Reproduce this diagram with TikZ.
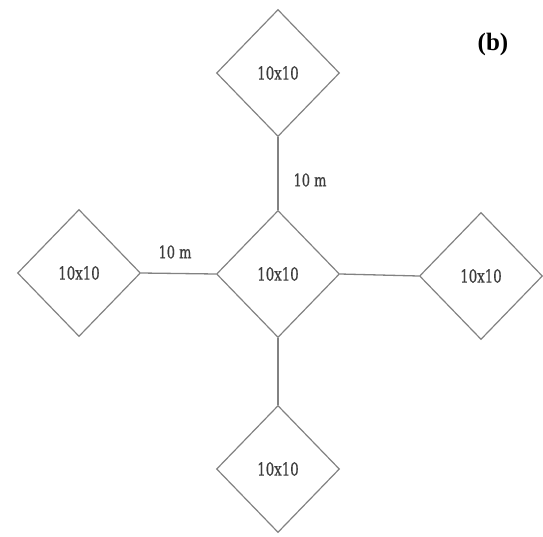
\documentclass[tikz,border=0pt]{standalone}
\usepackage{fontspec}
\setmainfont{Liberation Serif}
\newfontfamily\slabfont[FakeStretch=0.74,FakeBold=0.6]{DejaVu Serif}
\usetikzlibrary{shapes.geometric}
\definecolor{edgegray}{RGB}{130,130,130}
\definecolor{textgray}{RGB}{60,60,60}
\tikzset{
  plot/.style={diamond, draw=edgegray, line width=1.2pt, fill=white,
    minimum width=123pt, minimum height=127pt, inner sep=0pt,
    text=textgray, font=\slabfont\fontsize{18}{20}\selectfont},
  link/.style={draw=edgegray, line width=1.3pt},
  dist/.style={text=textgray, font=\slabfont\fontsize{17.5}{20}\selectfont, inner sep=0pt},
}
\begin{document}
\begin{tikzpicture}[x=1pt, y=-1pt]
  \useasboundingbox (0,0) rectangle (543,536);
  % five square plots, shown as diamonds
  \node[plot] (top)    at (278,73)  {10x10};
  \node[plot] (center) at (278,274) {10x10};
  \node[plot] (left)   at (79,273)  {10x10};
  \node[plot] (right)  at (481,276) {10x10};
  \node[plot] (bottom) at (278,469) {10x10};
  % spacing between the plots
  \draw[link] (top.south) -- (center.north);
  \draw[link] (left.east) -- (center.west);
  \draw[link] (center.east) -- (right.west);
  \draw[link] (center.south) -- (bottom.north);
  % distance labels
  \node[dist] (dv) at (310,180) {10 m};
  \node[dist] (dh) at (175,252) {10 m};
  % panel tag
  \node[font=\bfseries\fontsize{25}{28}\selectfont] (tag) at (493,44) {(b)};
\end{tikzpicture}
\end{document}
